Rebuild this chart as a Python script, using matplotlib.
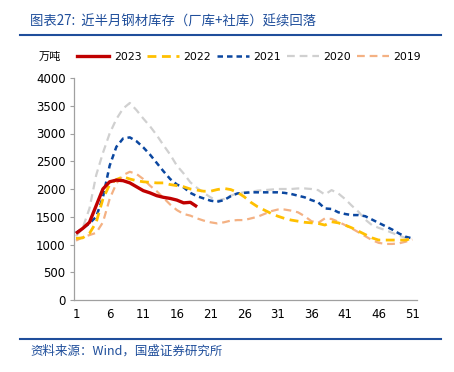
import matplotlib
matplotlib.use("Agg")
import matplotlib.pyplot as plt
import numpy as np
from matplotlib.lines import Line2D

plt.rcParams['font.family'] = ['DejaVu Sans', 'Noto Sans CJK SC']

weeks_2023 = list(range(1, 20))
v2023 = [1200, 1290, 1400, 1700, 2000, 2130, 2160, 2150, 2110, 2040, 1970, 1930,
         1880, 1850, 1830, 1800, 1750, 1760, 1680]

weeks = list(range(1, 52))
v2022 = [1110, 1120, 1200, 1400, 1820, 2080, 2170, 2220, 2180, 2150, 2130, 2120, 2110,
         2110, 2080, 2060, 2040, 2000, 1980, 1960, 1960, 1990, 2010, 1990, 1940, 1860,
         1760, 1680, 1620, 1560, 1510, 1470, 1440, 1420, 1400, 1390, 1380, 1350, 1410,
         1390, 1350, 1300, 1240, 1180, 1120, 1080, 1080, 1080, 1080, 1080, 1110]
v2021 = [1210, 1290, 1380, 1500, 1850, 2420, 2760, 2910, 2930, 2860, 2750, 2620, 2470,
         2320, 2180, 2080, 2030, 1930, 1870, 1830, 1790, 1770, 1800, 1870, 1920, 1930,
         1940, 1940, 1940, 1940, 1940, 1930, 1910, 1880, 1850, 1800, 1760, 1650, 1640,
         1580, 1550, 1530, 1530, 1510, 1450, 1390, 1330, 1270, 1200, 1140, 1110]
v2020 = [1150, 1300, 1650, 2250, 2650, 3000, 3260, 3450, 3550, 3420, 3270, 3130, 2970,
         2790, 2620, 2420, 2280, 2120, 2020, 1930, 1850, 1790, 1820, 1880, 1920, 1940,
         1950, 1970, 1980, 1990, 2000, 2000, 2000, 2010, 2010, 2000, 1980, 1900, 1980,
         1920, 1820, 1700, 1590, 1450, 1350, 1300, 1260, 1210, 1160, 1120, 1110]
v2019 = [1070, 1130, 1170, 1210, 1400, 1820, 2100, 2250, 2310, 2270, 2180, 2060, 1960,
         1840, 1720, 1620, 1550, 1520, 1470, 1430, 1400, 1380, 1400, 1430, 1440, 1440,
         1470, 1500, 1550, 1600, 1630, 1630, 1610, 1580, 1510, 1420, 1390, 1470, 1460,
         1410, 1350, 1290, 1220, 1150, 1080, 1030, 1010, 1010, 1020, 1050, 1090]

x_ticks = [1, 6, 11, 16, 21, 26, 31, 36, 41, 46, 51]
y_ticks = [0, 500, 1000, 1500, 2000, 2500, 3000, 3500, 4000]

title_color = '#1F4E9B'
cjk = ['Noto Sans CJK SC', 'DejaVu Sans']

fig = plt.figure(figsize=(4.54, 3.72), dpi=100)
ax = fig.add_axes([74/454, 1 - 300/372, 343/454, 222/372])

ax.plot(weeks, v2019, color='#F4B183', lw=1.6, dashes=(3.5, 2.2), label='2019', zorder=2)
ax.plot(weeks, v2020, color='#D0D0D0', lw=1.6, dashes=(3.5, 2.2), label='2020', zorder=2)
ax.plot(weeks, v2021, color='#0B47A0', lw=1.8, dashes=(2.2, 1.6), label='2021', zorder=3)
ax.plot(weeks, v2022, color='#FFC000', lw=2.0, dashes=(3.2, 2.0), label='2022', zorder=3)
ax.plot(weeks_2023, v2023, color='#C00000', lw=2.4, solid_capstyle='butt', label='2023', zorder=4)

ax.set_xlim(0.7, 51.7)
ax.set_ylim(0, 4000)
ax.set_xticks(x_ticks)
ax.set_yticks(y_ticks)
ax.tick_params(axis='x', length=0, labelsize=8.5, pad=6)
ax.tick_params(axis='y', length=3, color='#A0A0A0', labelsize=8.5, pad=3)
for s in ['top', 'right']:
    ax.spines[s].set_visible(False)
for s in ['left', 'bottom']:
    ax.spines[s].set_color('#A0A0A0')
    ax.spines[s].set_linewidth(0.9)

handles = [
    Line2D([], [], color='#C00000', lw=2.4),
    Line2D([], [], color='#FFC000', lw=2.0, dashes=(3.2, 2.0)),
    Line2D([], [], color='#0B47A0', lw=1.8, dashes=(2.2, 1.6)),
    Line2D([], [], color='#D0D0D0', lw=1.6, dashes=(3.5, 2.2)),
    Line2D([], [], color='#F4B183', lw=1.6, dashes=(3.5, 2.2)),
]
labels = ['2023', '2022', '2021', '2020', '2019']
fig.legend(handles, labels, loc='center', bbox_to_anchor=(249/454, 1 - 57/372), ncol=5,
           frameon=False, fontsize=7.8, handlelength=3.0, handletextpad=0.4,
           columnspacing=0.5, borderpad=0)

fig.text(50/454, 1 - 57/372, '万吨', family=cjk, fontsize=8, ha='center', va='center')

fig.text(30/454, 1 - 22/372, '图表27:  近半月钢材库存（厂库+社库）延续回落', family=cjk,
         fontsize=9.6, color=title_color, style='italic', ha='left', va='center')
fig.add_artist(Line2D([20/454, 441/454], [1 - 35/372, 1 - 35/372], color=title_color, lw=1.5))
fig.add_artist(Line2D([20/454, 441/454], [1 - 339/372, 1 - 339/372], color=title_color, lw=1.5))
fig.text(30/454, 1 - 351/372, '资料来源：Wind，国盛证券研究所', family=cjk,
         fontsize=9, color=title_color, style='italic', ha='left', va='center')

fig.savefig('out.png', dpi=100)
